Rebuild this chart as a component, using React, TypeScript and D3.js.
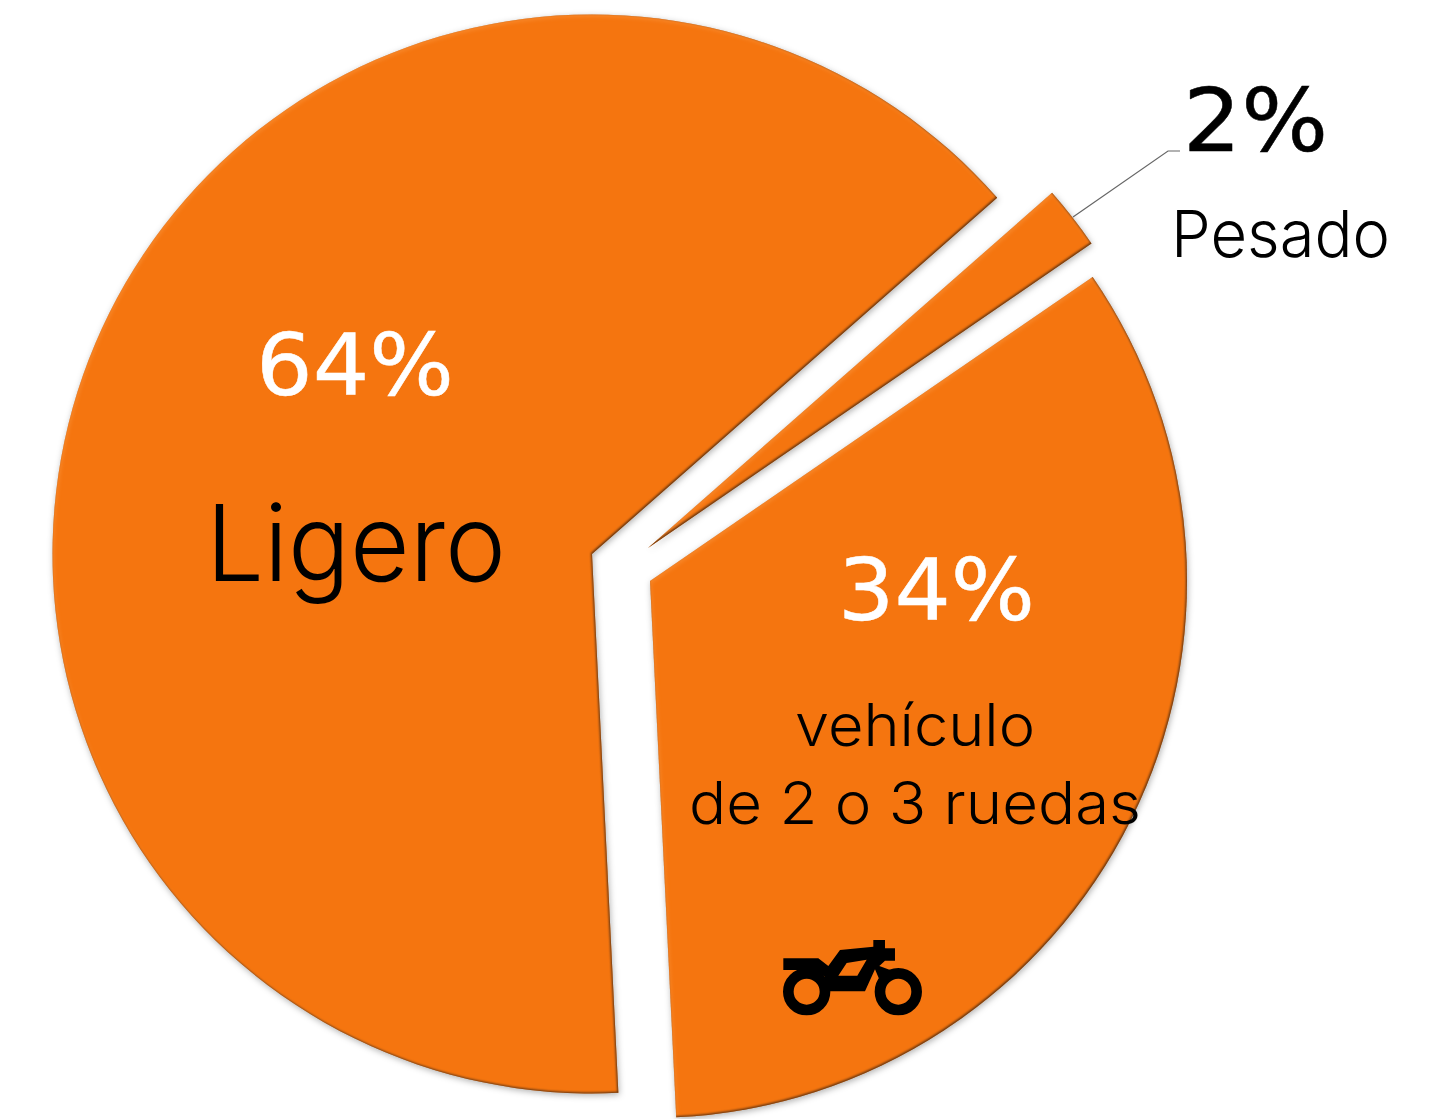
import React from "react";
import * as d3 from "d3";

const categories = ["Ligero", "Pesado", "vehículo de 2 o 3 ruedas"];
const shares = [64.3, 1.9, 33.8];
const shareLabels = ["64%", "2%", "34%"];

const radii = [539.5, 538, 537];
const DEG = Math.PI / 180;
const apexes: [number, number][] = [[592, 554], [648, 548], [650, 581]];
const ORANGE = "#F5750F";

const lightFont = "Inter, Roboto, 'Liberation Sans', sans-serif";
const pctFont = "'DejaVu Sans', sans-serif";

export default function App() {
  const pie = d3.pie<number>().sort(null).startAngle(177.2 * DEG).endAngle(537.2 * DEG);
  const arcs = pie(shares);
  const arc = d3.arc<d3.PieArcDatum<number>>().innerRadius(0);
  return (
    <svg width={1446} height={1119} style={{ position: "absolute", left: 0, top: 0, background: "#fff" }}
      data-categories={categories.join("|")}>
      <defs>
        <filter id="bevel" x="-5%" y="-5%" width="110%" height="110%" colorInterpolationFilters="sRGB">
          <feGaussianBlur in="SourceAlpha" stdDeviation="3" result="b" />
          <feOffset in="b" dx="1" dy="2" result="sh" />
          <feFlood floodColor="#000" floodOpacity="0.3" />
          <feComposite in2="sh" operator="in" result="drop" />
          <feOffset in="SourceAlpha" dx="-1" dy="-1.5" result="off" />
          <feGaussianBlur in="off" stdDeviation="1.3" result="ib" />
          <feComposite in="SourceAlpha" in2="ib" operator="out" result="edge" />
          <feFlood floodColor="#5a3010" floodOpacity="1" />
          <feComposite in2="edge" operator="in" result="edgeC" />
          <feOffset in="SourceAlpha" dx="1" dy="2" result="off2" />
          <feGaussianBlur in="off2" stdDeviation="2" result="ib2" />
          <feComposite in="SourceAlpha" in2="ib2" operator="out" result="edge2" />
          <feFlood floodColor="#ffa24d" floodOpacity="0.45" />
          <feComposite in2="edge2" operator="in" result="edgeL" />
          <feMerge>
            <feMergeNode in="drop" />
            <feMergeNode in="SourceGraphic" />
            <feMergeNode in="edgeL" />
            <feMergeNode in="edgeC" />
          </feMerge>
        </filter>
        <filter id="soft" x="-5%" y="-20%" width="110%" height="140%">
          <feGaussianBlur stdDeviation="0.6" />
        </filter>
      </defs>
      {arcs.map((a, i) => (
        <path key={i} d={arc.outerRadius(radii[i])(a) as string} fill={ORANGE} filter="url(#bevel)"
          transform={`translate(${apexes[i][0]},${apexes[i][1]})`} />
      ))}
      <path d="M1073,217L1168,151L1180,151" fill="none" stroke="#666" strokeWidth={1.2} />
      <g fontFamily={pctFont} fontSize={86} strokeWidth={0.5} filter="url(#soft)">
        <text x={256} y={395} fill="#fff" stroke="#fff" textLength={198} lengthAdjust="spacingAndGlyphs">{shareLabels[0]}</text>
        <text x={838} y={620} fill="#fff" stroke="#fff" textLength={197} lengthAdjust="spacingAndGlyphs">{shareLabels[2]}</text>
        <text x={1183} y={151} fontSize={87} fill="#000" stroke="#000" textLength={145} lengthAdjust="spacingAndGlyphs">{shareLabels[1]}</text>
      </g>
      <g fontFamily={lightFont} fontWeight={300} fill="#000">
        <text x={206} y={581} fontSize={106} textLength={300} lengthAdjust="spacingAndGlyphs">{categories[0]}</text>
        <text x={1171} y={257} fontSize={65} textLength={219} lengthAdjust="spacingAndGlyphs">{categories[1]}</text>
        <text x={795} y={746} fontSize={59} textLength={240} lengthAdjust="spacingAndGlyphs">vehículo</text>
        <text x={689} y={824} fontSize={59} textLength={452} lengthAdjust="spacingAndGlyphs">de 2 o 3 ruedas</text>
      </g>
      <g transform="translate(760,920) scale(0.3333)" filter="url(#soft)">
        <circle cx={140} cy={215} r={55} fill="none" stroke="#000" strokeWidth={32} />
        <circle cx={415} cy={215} r={55} fill="none" stroke="#000" strokeWidth={32} />
        <path fill="#000" fillRule="evenodd"
          d="M70,115L175,115L205,138L240,90L340,80L340,60L375,60L375,85L405,85L405,122L375,122L358,138L405,155L365,195L345,148L315,214L195,214L195,170L160,150L70,150Z M235,167L292,167L320,119L260,129Z" />
      </g>
    </svg>
  );
}
